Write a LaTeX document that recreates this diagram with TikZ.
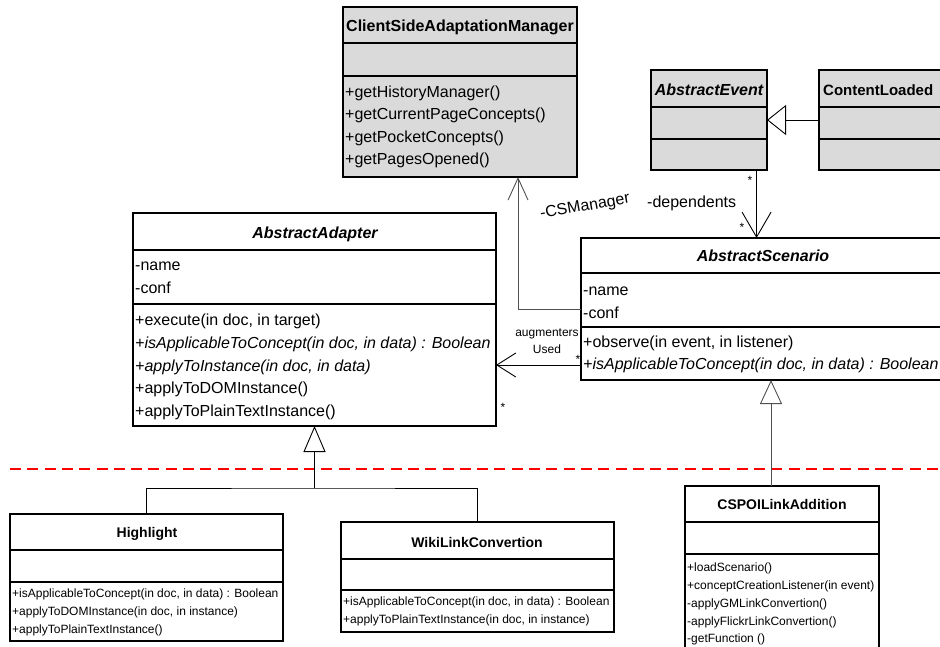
\documentclass[tikz,border=0pt]{standalone}
\usepackage{fontspec}
\setmainfont{Liberation Sans}
\usetikzlibrary{arrows.meta,calc}
\definecolor{clsgray}{RGB}{218,218,218}
\definecolor{lnkgray}{RGB}{80,80,80}
\newcommand\fbig{\fontsize{16}{19}\selectfont}
\newcommand\fmid{\fontsize{14}{16}\selectfont}
\newcommand\fsml{\fontsize{12}{14}\selectfont}
\tikzset{
  cls/.style={draw, line width=1.4pt, inner sep=0pt, outer sep=0pt, anchor=north west},
  divider/.style={line width=1.4pt},
  txt/.style={inner sep=0pt, anchor=base west, font=\fbig},
  stxt/.style={inner sep=0pt, anchor=base west, font=\fsml},
  ttl/.style={inner sep=0pt, anchor=base, font=\fbig\bfseries},
  sttl/.style={inner sep=0pt, anchor=base, font=\fmid\bfseries},
  lbl/.style={inner sep=0pt, anchor=base, font=\fsml},
  conn/.style={line width=0.9pt},
  gconn/.style={line width=0.9pt, draw=lnkgray},
  sep/.style={draw=red, line width=2pt, dash pattern=on 11pt off 6.3pt},
}
\begin{document}
\begin{tikzpicture}[x=1pt,y=-1pt]
\useasboundingbox (0,0) rectangle (940,646);
\clip (0,0) rectangle (940,646);

% ClientSideAdaptationManager
\node[cls, fill=clsgray, minimum width=234pt, minimum height=170pt] (cs) at (343,7) {};
\draw[divider] (cs.west |- 0,43) -- (cs.east |- 0,43);
\draw[divider] (cs.west |- 0,76) -- (cs.east |- 0,76);
\node[ttl] (cst) at (460,31) {ClientSideAdaptationManager};
\node[txt] (cs1) at (345,97) {+getHistoryManager()};
\node[txt] (cs2) at (345,119.5) {+getCurrentPageConcepts()};
\node[txt] (cs3) at (345,142) {+getPocketConcepts()};
\node[txt] (cs4) at (345,164.5) {+getPagesOpened()};

% AbstractEvent
\node[cls, fill=clsgray, minimum width=116pt, minimum height=100pt] (ae) at (651,70) {};
\draw[divider] (ae.west |- 0,107) -- (ae.east |- 0,107);
\draw[divider] (ae.west |- 0,139) -- (ae.east |- 0,139);
\node[ttl, font=\fbig\bfseries\itshape] (aet) at (709,95) {AbstractEvent};

% ContentLoaded
\node[cls, fill=clsgray, minimum width=150pt, minimum height=100pt] (cl) at (819,70) {};
\draw[divider] (cl.west |- 0,107) -- (cl.east |- 0,107);
\draw[divider] (cl.west |- 0,139) -- (cl.east |- 0,139);
\node[txt, font=\fontsize{15}{18}\selectfont\bfseries] (clt) at (823,95) {ContentLoaded};

% AbstractScenario
\node[cls, fill=white, minimum width=380pt, minimum height=142pt] (as) at (581,238) {};
\draw[divider] (as.west |- 0,273) -- (as.east |- 0,273);
\draw[divider] (as.west |- 0,327) -- (as.east |- 0,327);
\node[ttl, font=\fbig\bfseries\itshape] (ast) at (763,261) {AbstractScenario};
\node[txt] (as1) at (583,295) {-name};
\node[txt] (as2) at (583,318) {-conf};
\node[txt] (as3) at (583,347) {+observe(in event, in listener)};
\node[txt, font=\fbig\itshape] (as4) at (583,369) {+isApplicableToConcept(in doc, in data) : Boolean};

% AbstractAdapter
\node[cls, fill=white, minimum width=363pt, minimum height=213pt] (aa) at (133,213) {};
\draw[divider] (aa.west |- 0,250) -- (aa.east |- 0,250);
\draw[divider] (aa.west |- 0,304) -- (aa.east |- 0,304);
\node[ttl, font=\fbig\bfseries\itshape] (aat) at (315,238) {AbstractAdapter};
\node[txt] (aa1) at (135,270) {-name};
\node[txt] (aa2) at (135,293) {-conf};
\node[txt] (aa3) at (135,325) {+execute(in doc, in target)};
\node[txt, font=\fbig\itshape] (aa4) at (135,348) {+isApplicableToConcept(in doc, in data) : Boolean};
\node[txt, font=\fbig\itshape] (aa5) at (135,371) {+applyToInstance(in doc, in data)};
\node[txt] (aa6) at (135,393) {+applyToDOMInstance()};
\node[txt] (aa7) at (135,416) {+applyToPlainTextInstance()};

% Highlight
\node[cls, fill=white, minimum width=273pt, minimum height=127pt] (hl) at (10,514) {};
\draw[divider] (hl.west |- 0,550) -- (hl.east |- 0,550);
\draw[divider] (hl.west |- 0,582) -- (hl.east |- 0,582);
\node[sttl] (hlt) at (147,537) {Highlight};
\node[stxt] (hl1) at (12,597) {+isApplicableToConcept(in doc, in data) : Boolean};
\node[stxt] (hl2) at (12,615.5) {+applyToDOMInstance(in doc, in instance)};
\node[stxt] (hl3) at (12,633) {+applyToPlainTextInstance()};

% WikiLinkConvertion
\node[cls, fill=white, minimum width=273pt, minimum height=110pt] (wk) at (341,522) {};
\draw[divider] (wk.west |- 0,559) -- (wk.east |- 0,559);
\draw[divider] (wk.west |- 0,590) -- (wk.east |- 0,590);
\node[sttl] (wkt) at (477,547) {WikiLinkConvertion};
\node[stxt] (wk1) at (343,605.5) {+isApplicableToConcept(in doc, in data) : Boolean};
\node[stxt] (wk2) at (343,623) {+applyToPlainTextInstance(in doc, in instance)};

% CSPOILinkAddition
\node[cls, fill=white, minimum width=194pt, minimum height=220pt] (cp) at (685,486) {};
\draw[divider] (cp.west |- 0,522) -- (cp.east |- 0,522);
\draw[divider] (cp.west |- 0,554) -- (cp.east |- 0,554);
\node[sttl] (cpt) at (782,509) {CSPOILinkAddition};
\node[stxt] (cp1) at (687,571) {+loadScenario()};
\node[stxt] (cp2) at (687,589) {+conceptCreationListener(in event)};
\node[stxt] (cp3) at (687,607) {-applyGMLinkConvertion()};
\node[stxt] (cp4) at (687,625) {-applyFlickrLinkConvertion()};
\node[stxt] (cp5) at (687,642) {-getFunction ()};

% separator
\coordinate (sepL) at (10,469);
\coordinate (sepR) at (945,469);
\draw[sep] (sepL) -- (sepR);

% ContentLoaded -> AbstractEvent (generalization)
\draw[conn, -{Triangle[length=19pt,width=30pt,fill=white]}] (cl.west) -- (ae.east);

% AbstractEvent -> AbstractScenario (dependents)
\coordinate (dtop) at ($(ae.south west)!0.91!(ae.south east)$);
\draw[conn, -{Straight Barb[length=25pt,width=29pt]}] (dtop) -- (dtop |- as.north);
\node[lbl] (st1) at (750,184) {*};
\node[lbl] (st2) at (742,231) {*};
\node[txt] (dep) at (647,207) {-dependents};

% AbstractScenario -> ClientSideAdaptationManager (CSManager)
\coordinate (csin) at ($(cs.south west)!0.748!(cs.south east)$);
\draw[gconn, -{Straight Barb[length=22pt,width=20pt]}] (as.west) -| (csin);
\node[inner sep=0pt, font=\fbig, rotate=10] (csm) at (585,207) {-CSManager};

% AbstractScenario -> AbstractAdapter (augmentersUsed)
\coordinate (au) at ($(as.south west)+(0,-15)$);
\draw[conn, -{Straight Barb[length=19pt,width=24pt]}] (au) -- (aa.east |- au);
\node[lbl] (aug1) at (547,336) {augmenters};
\node[lbl] (aug2) at (547,353) {Used};
\node[lbl] (st3) at (578,363) {*};
\node[lbl] (st4) at (503,411) {*};

% Highlight, WikiLinkConvertion -> AbstractAdapter (generalization)
\coordinate (jn) at (aa.south |- 0,488);
\draw[conn] (hl.north) |- (jn) -| (wk.north);
\draw[conn, -{Triangle[length=26pt,width=22pt,fill=white]}] (jn) -- (aa.south);

% CSPOILinkAddition -> AbstractScenario (generalization)
\draw[gconn, -{Triangle[length=24pt,width=22pt,fill=white]}] (cp.north -| as.south) -- (as.south);
\end{tikzpicture}
\end{document}
